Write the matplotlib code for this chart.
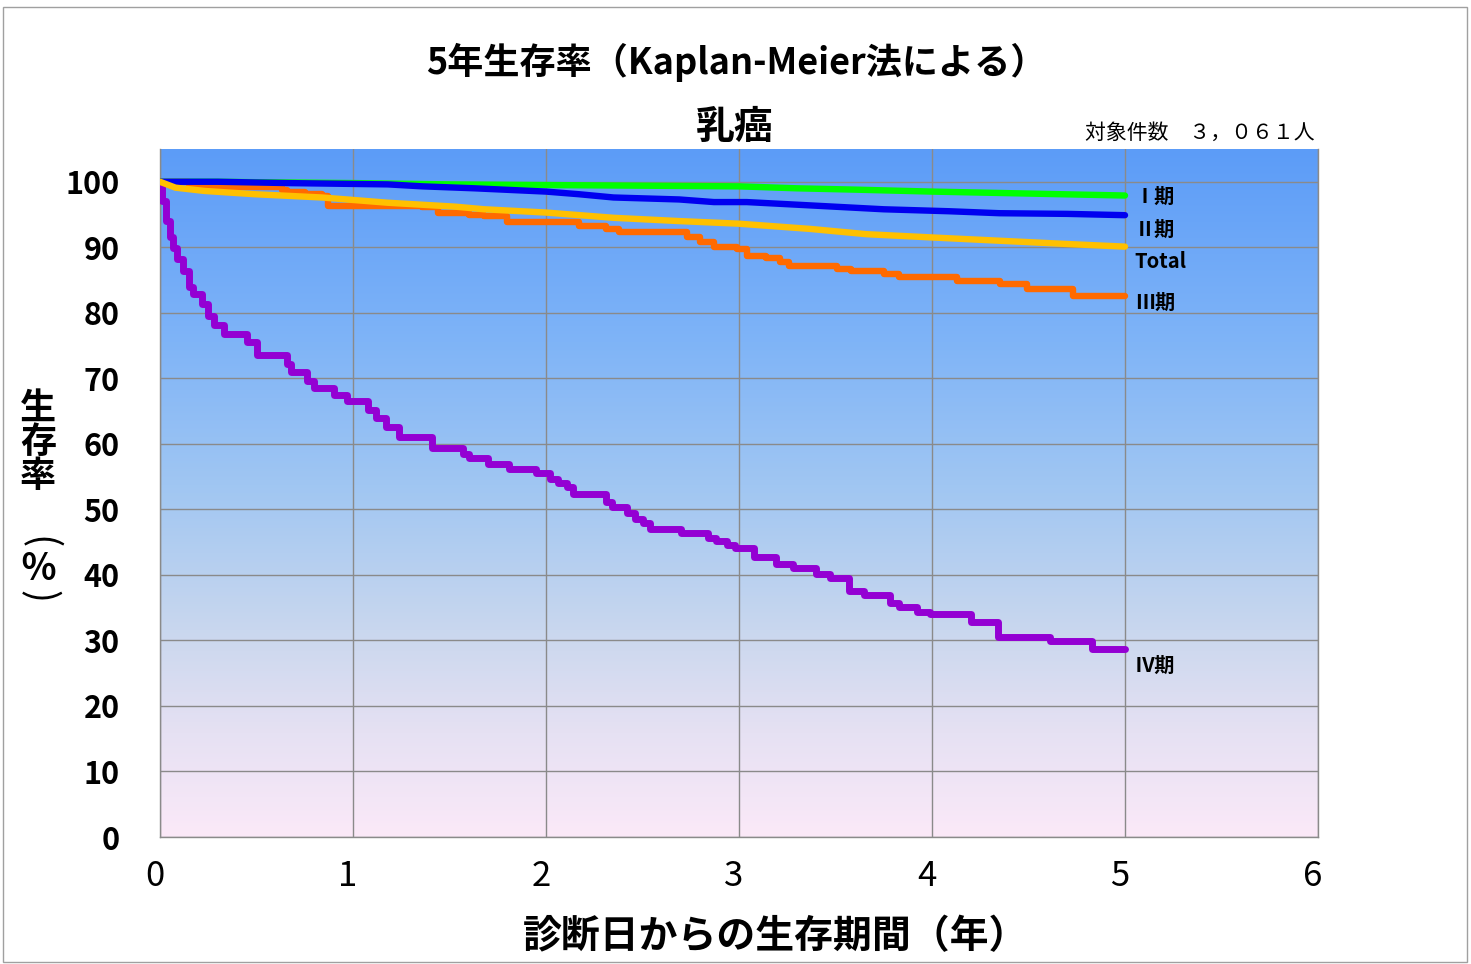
import matplotlib
matplotlib.use('Agg')
import matplotlib.pyplot as plt
import matplotlib.transforms as mtransforms
import numpy as np
from matplotlib.colors import LinearSegmentedColormap
from matplotlib.patches import Rectangle

plt.rcParams['font.family'] = ['Noto Sans CJK JP', 'DejaVu Sans']

# datos (anios desde el diagnostico, supervivencia %)
t_stage1 = [0, 0.3, 0.6, 1.0, 1.5, 2.0, 2.5, 3.0, 3.3, 3.6, 4.0, 4.5, 5.0]
s_stage1 = [100, 100, 99.9, 99.8, 99.6, 99.5, 99.4, 99.3, 99.0, 98.8, 98.5, 98.2, 97.9]

t_stage2 = [0, 0.3, 0.66, 1.18, 1.36, 1.63, 2.0, 2.17, 2.35, 2.69, 2.87, 3.04, 3.3,
            3.75, 4.09, 4.35, 4.7, 5.0]
s_stage2 = [100, 100, 99.8, 99.6, 99.3, 99.0, 98.5, 98.1, 97.6, 97.3, 96.9, 96.9, 96.5,
            95.8, 95.5, 95.2, 95.1, 94.9]

t_total = [0, 0.08, 0.23, 0.49, 0.84, 1.18, 1.53, 1.68, 2.0, 2.35, 2.69, 3.0, 3.37,
           3.66, 4.0, 4.35, 4.7, 5.0]
s_total = [100, 99.1, 98.6, 98.1, 97.6, 96.8, 96.2, 95.8, 95.3, 94.5, 94.0, 93.6, 92.8,
           92.0, 91.5, 91.0, 90.5, 90.1]

t_stage3 = [0, 0.06, 0.15, 0.2, 0.3, 0.63, 0.66, 0.75, 0.84, 0.87, 1.36, 1.44, 1.6,
            1.68, 1.8, 2.17, 2.31, 2.38, 2.73, 2.8, 2.87, 2.99, 3.04, 3.14, 3.21, 3.26,
            3.51, 3.58, 3.75, 3.83, 4.13, 4.35, 4.49, 4.73, 5.0]
s_stage3 = [100, 99.9, 99.6, 99.4, 99.2, 98.8, 98.4, 98.1, 97.9, 96.3, 96.1, 95.3, 95.0,
            94.8, 93.9, 93.3, 92.8, 92.3, 91.5, 90.8, 90.0, 89.7, 88.7, 88.3, 87.7, 87.2,
            86.7, 86.4, 85.9, 85.4, 84.9, 84.4, 83.6, 82.5, 82.5]

t_stage4 = [0, 0.01, 0.03, 0.05, 0.067, 0.09, 0.12, 0.15, 0.17, 0.22, 0.25, 0.28, 0.33,
            0.45, 0.5, 0.66, 0.68, 0.76, 0.8, 0.9, 0.97, 1.08, 1.12, 1.17, 1.24, 1.41,
            1.57, 1.6, 1.7, 1.81, 1.95, 2.02, 2.06, 2.11, 2.14, 2.31, 2.34, 2.42, 2.46,
            2.5, 2.54, 2.7, 2.84, 2.88, 2.94, 2.98, 3.08, 3.19, 3.28, 3.40, 3.47, 3.57,
            3.65, 3.78, 3.83, 3.92, 3.99, 4.20, 4.34, 4.61, 4.83, 5.0]
s_stage4 = [100, 97, 94, 91.5, 89.9, 88.2, 86.4, 84, 82.9, 81.4, 79.5, 78.2, 76.8,
            75.5, 73.5, 72.2, 70.9, 69.6, 68.6, 67.5, 66.6, 65.2, 63.9, 62.5, 61.0, 59.3,
            58.5, 57.9, 57.0, 56.2, 55.6, 54.7, 54.1, 53.4, 52.3, 51.2, 50.3, 49.5, 48.6,
            47.9, 47.0, 46.4, 45.7, 45.1, 44.5, 44.1, 42.8, 41.6, 41.0, 40.1, 39.6, 37.5,
            36.9, 35.7, 35.1, 34.3, 34.0, 32.8, 30.5, 29.9, 28.7, 28.7]

etiquetas = ['Ⅰ期', 'Ⅱ期', 'Total', 'Ⅲ期', 'Ⅳ期']
etiqueta_y = [97.8, 92.7, 87.8, 81.6, 26.2]

fig = plt.figure(figsize=(14.71, 9.64), dpi=100)
ax = fig.add_axes([160/1471, 127/964, 1158/1471, 688/964])

# fondo degradado
fondo = LinearSegmentedColormap.from_list('fondo', [
    (0.0, '#fbe9f8'), (0.15, '#e6e1f3'), (0.3, '#c9d7ee'),
    (0.5, '#a2c7f2'), (0.72, '#7fb4f7'), (1.0, '#5c9cf8')])
grad = np.linspace(0, 1, 256).reshape(-1, 1)
ax.imshow(grad, cmap=fondo, origin='lower', aspect='auto',
          extent=[0, 6, 0, 105], zorder=0)

ax.set_xlim(0, 6)
ax.set_ylim(0, 105)
ax.set_xticks(range(0, 7))
ax.set_yticks(range(0, 101, 10))
ax.grid(True, color='#8a8a8a', linewidth=1.0, zorder=1)
for sp in ax.spines.values():
    sp.set_color('#8a8a8a')
    sp.set_linewidth(1.0)
ax.spines['top'].set_visible(False)
ax.tick_params(length=0)
ax.tick_params(axis='y', pad=29, labelsize=22)
ax.tick_params(axis='x', pad=16, labelsize=25)
for lbl in ax.get_yticklabels():
    lbl.set_fontweight('bold')
desplazar = mtransforms.ScaledTranslation(-5/100, 0, fig.dpi_scale_trans)
for lbl in ax.get_xticklabels():
    lbl.set_transform(lbl.get_transform() + desplazar)

lw = 4.6
ax.plot(t_stage1, s_stage1, color='#00ff00', lw=lw, solid_capstyle='round', zorder=3)
ax.plot(t_stage4, s_stage4, color='#9400d3', lw=5.0, drawstyle='steps-post',
        solid_capstyle='round', zorder=3)
ax.plot(t_stage3, s_stage3, color='#ff6a00', lw=lw, drawstyle='steps-post',
        solid_capstyle='round', zorder=4)
ax.plot(t_stage2, s_stage2, color='#0000f0', lw=lw, solid_capstyle='round', zorder=5)
ax.plot(t_total, s_total, color='#ffc000', lw=lw, solid_capstyle='round', zorder=6)

for txt, yv in zip(etiquetas, etiqueta_y):
    ax.text(5.05, yv, txt, fontsize=14.5, fontweight='bold', va='center', ha='left',
            clip_on=False, zorder=7)

fig.text(736/1471, 1 - 62/964, '5年生存率（Kaplan-Meier法による）', fontsize=26,
         fontweight='bold', ha='center', va='center')
fig.text(735/1471, 1 - 128/964, '乳癌', fontsize=28, fontweight='bold',
         ha='center', va='center')
fig.text(1315/1471, 1 - 133/964, '対象件数　３，０６１人', fontsize=15,
         ha='right', va='center')
fig.text(776/1471, 1 - 937/964, '診断日からの生存期間（年）', fontsize=28,
         fontweight='bold', ha='center', va='center')

# etiqueta vertical del eje y
for ch, yp in zip(['生', '存', '率', '％'], [408, 443, 477, 570]):
    fig.text(38/1471, 1 - yp/964, ch, fontsize=26, fontweight='bold',
             ha='center', va='center')
for ch, yp in zip(['(', ')'], [543, 597]):
    fig.text(38/1471, 1 - yp/964, ch, fontsize=28, rotation=-90,
             ha='center', va='center')

fig.add_artist(Rectangle((3/1471, 2/964), 1464/1471, 955/964, transform=fig.transFigure,
                         fill=False, edgecolor='#a0a0a0', linewidth=1.0))

plt.savefig('out.png', dpi=100)
